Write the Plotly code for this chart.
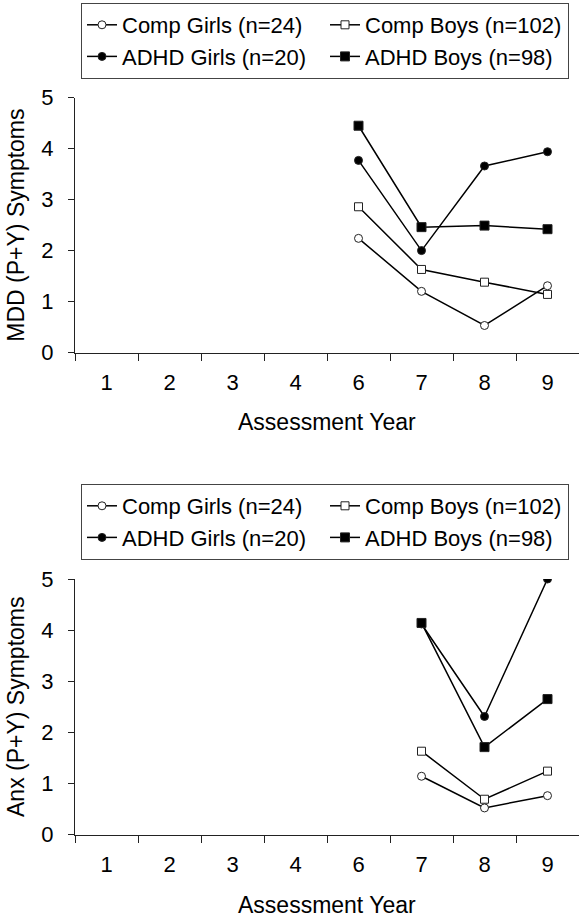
import plotly.graph_objects as go

years = ["1", "2", "3", "4", "6", "7", "8", "9"]

# Top panel: MDD (P+Y) symptoms
mdd_comp_girls = [None, None, None, None, 2.24, 1.20, 0.53, 1.31]
mdd_comp_boys = [None, None, None, None, 2.86, 1.63, 1.38, 1.14]
mdd_adhd_girls = [None, None, None, None, 3.77, 2.00, 3.66, 3.94]
mdd_adhd_boys = [None, None, None, None, 4.45, 2.46, 2.49, 2.42]

# Bottom panel: Anx (P+Y) symptoms
anx_comp_girls = [None, None, None, None, None, 1.14, 0.52, 0.76]
anx_comp_boys = [None, None, None, None, None, 1.63, 0.69, 1.24]
anx_adhd_girls = [None, None, None, None, None, 4.12, 2.31, 5.00]
anx_adhd_boys = [None, None, None, None, None, 4.14, 1.71, 2.65]

names = ["Comp Girls (n=24)", "Comp Boys (n=102)", "ADHD Girls (n=20)", "ADHD Boys (n=98)"]
symbols = ["circle", "square", "circle", "square"]
fills = ["white", "white", "black", "black"]
sizes = [8, 8, 8, 9]

FONT = "Arial, Liberation Sans, sans-serif"
W, H = 579, 924

fig = go.Figure()

panels = [
    ([mdd_comp_girls, mdd_comp_boys, mdd_adhd_girls, mdd_adhd_boys], "x", "y", "legend"),
    ([anx_comp_girls, anx_comp_boys, anx_adhd_girls, anx_adhd_boys], "x2", "y2", "legend2"),
]
for series, xa, ya, lg in panels:
    for vals, nm, sym, fc, sz in zip(series, names, symbols, fills, sizes):
        fig.add_trace(go.Scatter(
            x=years, y=vals, name=nm, mode="lines+markers",
            xaxis=xa, yaxis=ya, legend=lg,
            line=dict(color="black", width=1.5),
            marker=dict(symbol=sym, size=sz, color=fc,
                        line=dict(color="#222222", width=1)),
            connectgaps=False,
        ))

def yd(top_px, bot_px):
    return [1 - bot_px / H, 1 - top_px / H]

xcommon = dict(type="category", categoryorder="array", categoryarray=years,
               range=[-0.5, 7.5], showline=True, linecolor="#222222", linewidth=1,
               ticks="outside", tickson="boundaries", ticklen=7, tickcolor="#222222",
               showgrid=False, zeroline=False,
               tickfont=dict(family=FONT, size=22, color="black"),
               ticklabelstandoff=10)
ycommon = dict(range=[0, 5], dtick=1, showline=True, linecolor="#222222", linewidth=1,
               ticks="outside", ticklen=6, tickcolor="#222222",
               showgrid=False, zeroline=False,
               tickfont=dict(family=FONT, size=22, color="black"),
               ticklabelstandoff=10)

legcommon = dict(orientation="h", xref="container", yref="container",
                 x=81 / W, xanchor="left", yanchor="top",
                 bordercolor="#444444", borderwidth=1, bgcolor="white",
                 font=dict(family=FONT, size=22, color="black"),
                 entrywidth=198, entrywidthmode="pixels", itemwidth=30,
                 tracegroupgap=0)

xtitle_font = dict(family=FONT, size=23, color="black")
annotations = [
    dict(text="Assessment Year", xref="paper", yref="paper", x=0.5, y=1 - 422 / H,
         xanchor="center", yanchor="middle", showarrow=False, font=xtitle_font),
    dict(text="Assessment Year", xref="paper", yref="paper", x=0.5, y=1 - 905 / H,
         xanchor="center", yanchor="middle", showarrow=False, font=xtitle_font),
]

fig.update_layout(
    width=W, height=H,
    margin=dict(l=75, r=0, t=0, b=0, autoexpand=False),
    paper_bgcolor="white", plot_bgcolor="white",
    showlegend=True,
    xaxis=dict(xcommon, domain=[0, 1], anchor="y"),
    yaxis=dict(ycommon, domain=yd(97.7, 352.5), anchor="x",
               title=dict(text="MDD (P+Y) Symptoms", font=dict(family=FONT, size=23, color="black"),
                          standoff=10)),
    xaxis2=dict(xcommon, domain=[0, 1], anchor="y2"),
    yaxis2=dict(ycommon, domain=yd(579, 834.5), anchor="x2",
                title=dict(text="Anx (P+Y) Symptoms", font=dict(family=FONT, size=23, color="black"),
                           standoff=10)),
    legend=dict(legcommon, y=1 - 3 / H),
    legend2=dict(legcommon, y=1 - 484 / H),
    annotations=annotations,
)

fig.write_html("out.html", config={"displayModeBar": False},
               post_script="document.body.style.margin='0px';")
